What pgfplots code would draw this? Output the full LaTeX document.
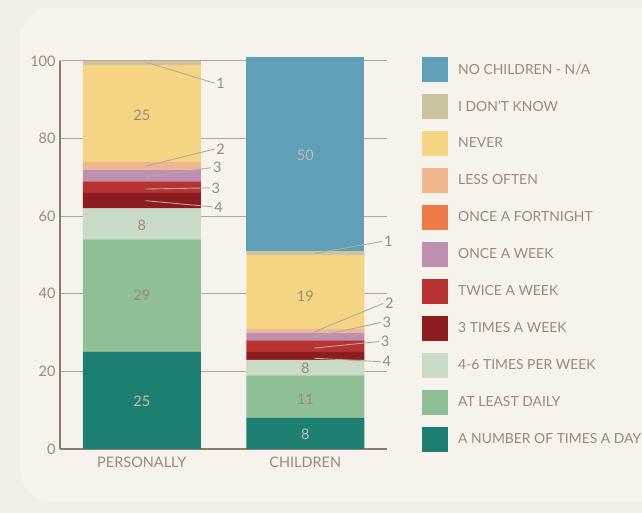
\documentclass[border=0pt]{standalone}
\usepackage{pgfplots}
\pgfplotsset{compat=1.18}
\usepackage{fontspec}
\setmainfont{Lato}
\definecolor{bgout}{HTML}{F2EFE7}
\definecolor{bgpanel}{HTML}{F6F3EC}
\definecolor{textc}{HTML}{9B8A79}
\definecolor{lightlab}{HTML}{C4BDB0}
\definecolor{axiscol}{HTML}{8C7C6C}
\definecolor{gridcol}{HTML}{B5A794}
\definecolor{leadc}{HTML}{B3AA9E}
\definecolor{cteal}{HTML}{1C7F72}
\definecolor{cgreen}{HTML}{8FBF96}
\definecolor{clight}{HTML}{C9DBC6}
\definecolor{cdred}{HTML}{8C1C1E}
\definecolor{cred}{HTML}{B83232}
\definecolor{cpurple}{HTML}{BD8FB0}
\definecolor{corange}{HTML}{EE7A47}
\definecolor{cpeach}{HTML}{F2B78C}
\definecolor{cyellow}{HTML}{F5D584}
\definecolor{ckhaki}{HTML}{C9C3A0}
\definecolor{cblue}{HTML}{5F9FB8}
\newcommand{\labfont}{\fontsize{14.5bp}{16bp}\selectfont}
\newcommand{\legfont}{\fontsize{13.9bp}{16bp}\selectfont}
\tikzset{lab/.style={font=\labfont, text=textc}, llab/.style={font=\labfont, text=lightlab},
  lead/.style={leadc, line width=0.9bp}}
\begin{document}
\begin{tikzpicture}
\useasboundingbox (0,0) rectangle (642bp,513bp);
\fill[bgout] (0,0) rectangle (642bp,513bp);
\fill[bgpanel, rounded corners=30bp] (20bp,12bp) rectangle (700bp,505bp);
\begin{axis}[
  at={(60bp,64bp)}, anchor=south west,
  scale only axis, width=327bp, height=388bp,
  xmin=-0.5, xmax=1.5, ymin=0, ymax=100,
  ybar stacked, bar width=118bp,
  axis x line*=bottom, axis y line*=left,
  axis line style={axiscol, line width=1.3bp},
  ymajorgrids, grid style={gridcol, line width=1bp},
  major tick length=0pt,
  ytick={0,20,40,60,80,100},
  xtick={0,1}, xticklabels={PERSONALLY,CHILDREN},
  tick label style={font=\labfont, text=textc},
  yticklabel style={xshift=-1bp},
  xticklabel style={yshift=-4bp},
  /pgf/number format/assume math mode=true,
  clip=false,
  reverse legend,
  legend cell align=left,
  legend image code/.code={\fill[#1, draw=none] (0bp,-12.5bp) rectangle (26bp,12.5bp);},
  legend style={at={(axis description cs:1.107,1.0103)}, anchor=north west,
    draw=none, fill=none, inner xsep=0pt, inner ysep=0pt,
    font=\legfont, text=textc, row sep=12bp,
    nodes={inner sep=0pt},
    /tikz/every odd column/.append style={column sep=10bp}},
  after end axis/.code={
    \node[llab] at (axis cs:0,12.3) {25};
    \node[lab] at (axis cs:0,39.6) {29};
    \node[lab] at (axis cs:0,57.6) {8};
    \node[lab] at (axis cs:0,85.9) {25};
    \node[llab] at (axis cs:1,3.8) {8};
    \node[lab] at (axis cs:1,12.7) {11};
    \node[lab] at (axis cs:1,20.7) {8};
    \node[lab] at (axis cs:1,39.4) {19};
    \node[llab] at (axis cs:1,75.8) {50};
    \draw[lead] (axis cs:0.024,99.7) -- (axis cs:0.445,94.3) node[lab, right, inner sep=1.5bp] {1};
    \draw[lead] (axis cs:0.024,72.9) -- (axis cs:0.445,77.3) node[lab, right, inner sep=1.5bp] {2};
    \draw[lead] (axis cs:0.024,70.2) -- (axis cs:0.425,72.5) node[lab, right, inner sep=1.5bp] {3};
    \draw[lead] (axis cs:0.024,67.0) -- (axis cs:0.415,67.3) node[lab, right, inner sep=1.5bp] {3};
    \draw[lead] (axis cs:0.024,64.0) -- (axis cs:0.433,62.4) node[lab, right, inner sep=1.5bp] {4};
    \draw[lead] (axis cs:1.055,50.4) -- (axis cs:1.471,53.5) node[lab, right, inner sep=1.5bp] {1};
    \draw[lead] (axis cs:1.055,30.2) -- (axis cs:1.476,37.5) node[lab, right, inner sep=1.5bp] {2};
    \draw[lead] (axis cs:1.055,28.9) -- (axis cs:1.461,32.6) node[lab, right, inner sep=1.5bp] {3};
    \draw[lead] (axis cs:1.055,26.0) -- (axis cs:1.451,27.7) node[lab, right, inner sep=1.5bp] {3};
    \draw[lead] (axis cs:1.055,23.4) -- (axis cs:1.461,22.5) node[lab, right, inner sep=1.5bp] {4};
  },
]
\addplot[fill=cteal, draw=none] coordinates {(0,25) (1,8)};
\addlegendentry{A NUMBER OF TIMES A DAY}
\addplot[fill=cgreen, draw=none] coordinates {(0,29) (1,11)};
\addlegendentry{AT LEAST DAILY}
\addplot[fill=clight, draw=none] coordinates {(0,8) (1,4)};
\addlegendentry{4-6 TIMES PER WEEK}
\addplot[fill=cdred, draw=none] coordinates {(0,4) (1,2)};
\addlegendentry{3 TIMES A WEEK}
\addplot[fill=cred, draw=none] coordinates {(0,3) (1,3)};
\addlegendentry{TWICE A WEEK}
\addplot[fill=cpurple, draw=none] coordinates {(0,3) (1,2)};
\addlegendentry{ONCE A WEEK}
\addplot[fill=corange, draw=none] coordinates {(0,0) (1,0)};
\addlegendentry{ONCE A FORTNIGHT}
\addplot[fill=cpeach, draw=none] coordinates {(0,2) (1,1)};
\addlegendentry{LESS OFTEN}
\addplot[fill=cyellow, draw=none] coordinates {(0,25) (1,19)};
\addlegendentry{NEVER}
\addplot[fill=ckhaki, draw=none] coordinates {(0,1) (1,1)};
\addlegendentry{I DON'T KNOW}
\addplot[fill=cblue, draw=none] coordinates {(0,0) (1,50)};
\addlegendentry{NO CHILDREN - N/A}
\end{axis}
\end{tikzpicture}
\end{document}
